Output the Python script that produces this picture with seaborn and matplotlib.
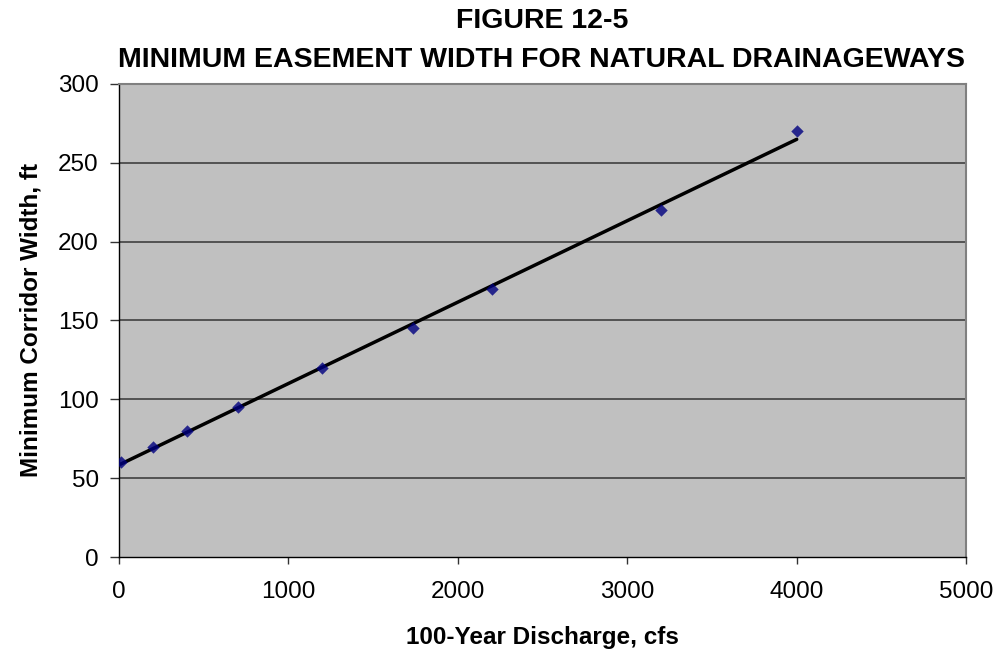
import matplotlib
matplotlib.use("Agg")
import matplotlib.pyplot as plt
import seaborn as sns
import numpy as np
import pandas as pd

discharge = [10, 200, 400, 700, 1200, 1735, 2200, 3200, 4000]
width = [60, 70, 80, 95, 120, 145, 170, 220, 270]
x_ticks = [0, 1000, 2000, 3000, 4000, 5000]
y_ticks = [0, 50, 100, 150, 200, 250, 300]

df = pd.DataFrame({"discharge": discharge, "width": width})

sns.set_style("white")
plt.rcParams['font.family'] = ['Liberation Sans', 'DejaVu Sans']
plt.rcParams['text.color'] = 'black'
plt.rcParams['axes.labelcolor'] = 'black'
plt.rcParams['xtick.color'] = 'black'
plt.rcParams['ytick.color'] = 'black'

H = 652.0
fig = plt.figure(figsize=(9.99, 6.52), dpi=100)
ax = fig.add_axes([0.1191, 0.1457, 0.848, 0.7255])
ax.set_facecolor("#C0C0C0")

for yv in y_ticks[1:-1]:
    ax.axhline(yv, color="#4a4a4a", lw=1.3, zorder=1)

sns.regplot(data=df, x="discharge", y="width", ax=ax, ci=None, truncate=True,
            marker="D",
            scatter_kws=dict(s=40, color="#000080", zorder=3, linewidths=0),
            line_kws=dict(color="black", lw=2.5, zorder=2))

ax.set_xlim(0, 5000)
ax.set_ylim(0, 300)
ax.set_xticks(x_ticks)
ax.set_yticks(y_ticks)
ax.tick_params(axis="both", labelsize=17.5, direction="out", width=1, color="#333333",
               left=True, bottom=True, labelcolor="black")
ax.tick_params(axis="x", length=5, pad=12)
ax.tick_params(axis="y", length=6.5, pad=8)

for side in ["top", "right"]:
    ax.spines[side].set_color("#808080")
    ax.spines[side].set_linewidth(1.5)
for side in ["left", "bottom"]:
    ax.spines[side].set_color("black")
    ax.spines[side].set_linewidth(1)

ax.set_xlabel("100-Year Discharge, cfs", fontsize=17.5, fontweight="bold", labelpad=17,
              color="black")
ax.set_ylabel("Minimum Corridor Width, ft", fontsize=17.5, fontweight="bold", labelpad=11,
              color="black")

fig.text(0.5425, 1 - 28 / H, "FIGURE 12-5", ha="center", va="baseline",
         fontsize=20.5, fontweight="bold", color="black")
fig.text(0.5425, 1 - 67 / H, "MINIMUM EASEMENT WIDTH FOR NATURAL DRAINAGEWAYS",
         ha="center", va="baseline", fontsize=20.5, fontweight="bold", color="black")

fig.savefig("out.png", dpi=100)
